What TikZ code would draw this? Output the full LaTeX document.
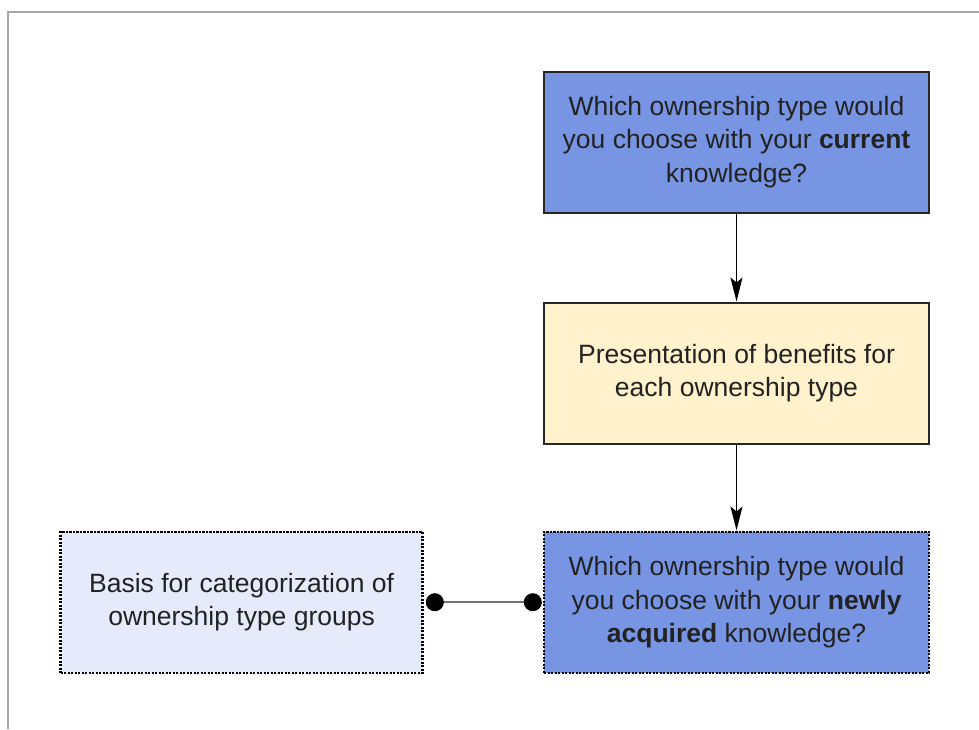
\documentclass[tikz,border=0pt]{standalone}
\usepackage{fontspec}
\setmainfont{Liberation Sans}
\usetikzlibrary{arrows.meta,positioning}
\usepackage{xcolor}
\definecolor{qblue}{HTML}{7895E4}
\definecolor{infoyellow}{HTML}{FFF2CC}
\definecolor{baselav}{HTML}{E6EBFC}
\definecolor{inktext}{HTML}{222222}

\begin{document}
\begin{tikzpicture}[
  x=1pt, y=-1pt,
  font=\fontsize{26.5}{33.5}\selectfont,
  box/.style={draw=black!85, line width=2pt, align=center, text=inktext,
    minimum width=385pt, minimum height=141pt, inner sep=0pt},
  dotbox/.style={box, draw=black, line width=2.4pt, dash pattern=on 2.2pt off 1.3pt},
  arrow/.style={-{Stealth[length=24pt, width=12pt, inset=5pt]}, line width=1.4pt, black},
  link/.style={{Circle[length=18pt, color=black]}-{Circle[length=18pt, color=black]},
    line width=2pt, black!55, shorten <=2pt, shorten >=1pt}
]
\useasboundingbox (0,0) rectangle (979,729);
\draw[black!35, line width=1.5pt] (8,729) -- (8,12) -- (979,12);

\node[box, fill=qblue] (now) at (736.5,142)
  {Which ownership type would\\you choose with your \textbf{current}\\knowledge?};
\node[box, fill=infoyellow, below=88pt of now] (bene)
  {Presentation of benefits for\\each ownership type};
\node[dotbox, fill=qblue, below=86pt of bene] (newk)
  {Which ownership type would\\you choose with your \textbf{newly}\\\textbf{acquired} knowledge?};
\node[dotbox, fill=baselav, minimum width=362pt, left=119pt of newk] (basis)
  {Basis for categorization of\\ownership type groups};

\draw[arrow] (now) -- (bene);
\draw[arrow] (bene) -- (newk);
\draw[link] (basis) -- (newk);
\end{tikzpicture}
\end{document}
